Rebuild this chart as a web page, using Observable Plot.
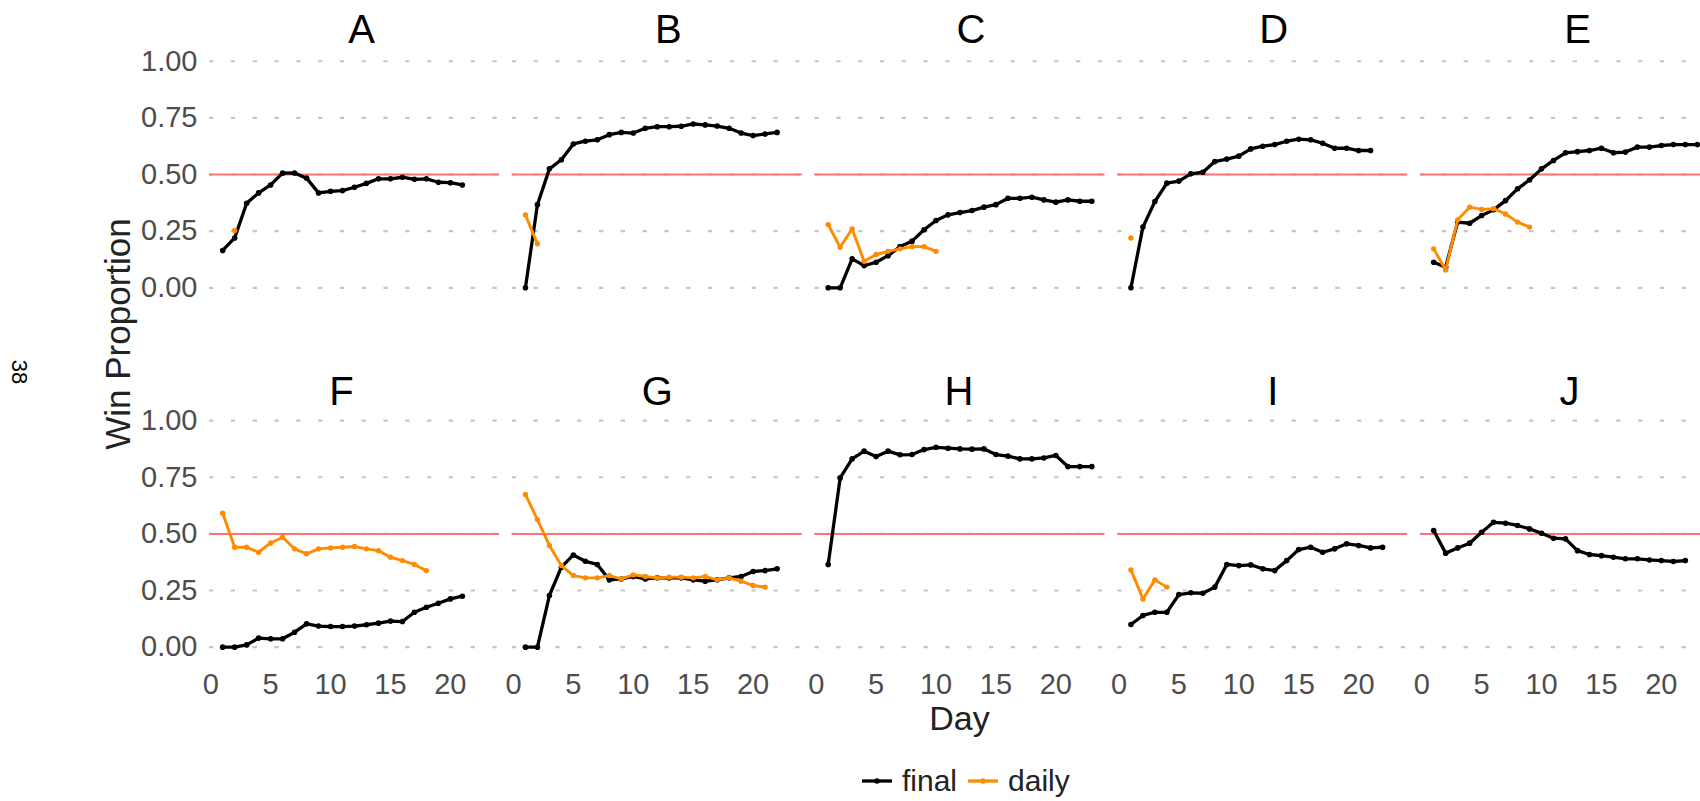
<!DOCTYPE html>
<html>
<head>
<meta charset="utf-8">
<script src="https://cdn.jsdelivr.net/npm/d3@7"></script>
<script src="https://cdn.jsdelivr.net/npm/@observablehq/plot@0.6"></script>
<style>
  html, body { margin: 0; padding: 0; background: #ffffff; overflow: hidden; }
  #wrap { position: relative; width: 1710px; font-family: "Liberation Sans", Arial, sans-serif; }
  #legend { height: 41px; display: flex; align-items: center; padding-left: 862px; box-sizing: border-box;
            font-size: 30px; color: #222; }
  #legend .item { display: flex; align-items: center; margin-right: 11px; }
  #legend svg { margin-right: 10px; }
</style>
</head>
<body>
<div id="wrap"></div>
<script>
// ---- data ----
const panels = ["A","B","C","D","E","F","G","H","I","J"];
const seriesNames = ["final","daily"];
const xTicks = [0,5,10,15,20];
const yTicks = [0,0.25,0.5,0.75,1];

const finalA = [0.165,0.22,0.373,0.419,0.454,0.506,0.507,0.484,0.419,0.426,0.429,0.444,0.461,0.481,0.481,0.488,0.479,0.481,0.466,0.464,0.454];
const dailyA = [null,0.253];
const finalB = [0,0.367,0.525,0.565,0.635,0.647,0.653,0.676,0.686,0.683,0.704,0.711,0.711,0.713,0.723,0.719,0.714,0.704,0.683,0.672,0.679,0.686];
const dailyB = [0.322,0.194];
const finalC = [0,0,0.128,0.098,0.113,0.142,0.182,0.206,0.256,0.297,0.322,0.332,0.341,0.356,0.367,0.395,0.395,0.4,0.388,0.378,0.388,0.382,0.382];
const dailyC = [0.279,0.179,0.26,0.117,0.147,0.161,0.172,0.182,0.182,0.161];
const finalD = [0,0.268,0.381,0.462,0.471,0.503,0.51,0.557,0.568,0.581,0.613,0.625,0.632,0.647,0.656,0.653,0.638,0.616,0.616,0.606,0.606];
const dailyD = [0.22];
const finalE = [0.113,0.091,0.29,0.285,0.319,0.344,0.385,0.437,0.476,0.525,0.562,0.596,0.601,0.606,0.616,0.596,0.599,0.621,0.621,0.628,0.632,0.632,0.632];
const dailyE = [0.172,0.079,0.3,0.356,0.346,0.349,0.326,0.29,0.268];
const finalF = [0,0,0.01,0.04,0.037,0.037,0.066,0.103,0.093,0.091,0.091,0.093,0.099,0.106,0.115,0.113,0.154,0.176,0.194,0.213,0.225];
const dailyF = [0.591,0.441,0.441,0.419,0.46,0.485,0.434,0.412,0.434,0.438,0.441,0.444,0.434,0.426,0.397,0.382,0.365,0.338];
const finalG = [0,0,0.228,0.353,0.407,0.379,0.365,0.297,0.301,0.312,0.301,0.306,0.306,0.306,0.297,0.291,0.297,0.306,0.312,0.334,0.338,0.346];
const dailyG = [0.674,0.563,0.449,0.36,0.316,0.306,0.306,0.316,0.301,0.319,0.312,0.306,0.309,0.309,0.306,0.312,0.297,0.306,0.291,0.272,0.265];
const finalH = [0.365,0.747,0.831,0.865,0.841,0.865,0.849,0.85,0.872,0.882,0.878,0.875,0.874,0.875,0.85,0.843,0.831,0.831,0.835,0.846,0.797,0.797,0.797];
const dailyH = [];
const finalI = [0.1,0.14,0.154,0.154,0.232,0.24,0.238,0.265,0.365,0.36,0.363,0.346,0.338,0.382,0.431,0.441,0.419,0.434,0.456,0.449,0.438,0.441];
const dailyI = [0.341,0.213,0.297,0.265];
const finalJ = [0.515,0.415,0.438,0.459,0.507,0.551,0.547,0.537,0.522,0.503,0.481,0.478,0.426,0.409,0.404,0.397,0.39,0.39,0.385,0.382,0.378,0.382];
const dailyJ = [];

const finals = [finalA,finalB,finalC,finalD,finalE,finalF,finalG,finalH,finalI,finalJ];
const dailies = [dailyA,dailyB,dailyC,dailyD,dailyE,dailyF,dailyG,dailyH,dailyI,dailyJ];

// ---- build table ----
const rows = [];
panels.forEach((p, i) => {
  const col = i % 5, row = Math.floor(i / 5);
  [[finals[i], "final"], [dailies[i], "daily"]].forEach(([arr, s]) => {
    arr.forEach((v, k) => { if (v != null) rows.push({panel: p, col, row, series: s, day: k + 1, value: v}); });
  });
});
const labelRows = panels.map((p, i) => ({panel: p, col: i % 5, row: Math.floor(i / 5)}));
const finalRows = rows.filter(d => d.series === "final");
const dailyRows = rows.filter(d => d.series === "daily");

// strip-label nudges (styling only)
const stripNudge = {A: 7, B: 11, C: 11, D: 11, E: 12, F: -13, G: 0, H: -1, I: 10, J: 4};

const W = 1710, H = 760;
const font = "'Liberation Sans', Arial, sans-serif";

const stripMarks = labelRows.map(d =>
  Plot.text([d], {text: "panel", fx: "col", fy: "row", frameAnchor: "top", lineAnchor: "middle",
                  dy: d.row === 0 ? -20 : -17, dx: stripNudge[d.panel], fontSize: 40, fill: "#000"})
);

const chart = Plot.plot({
  width: W, height: H,
  marginLeft: 209, marginRight: 0, marginTop: 49.4, marginBottom: H - 658,
  style: {fontFamily: font, background: "#ffffff", overflow: "visible"},
  fx: {domain: [0,1,2,3,4], paddingInner: 0.0421, paddingOuter: 0, round: false, axis: null},
  fy: {domain: [0,1], paddingInner: 0.3064, paddingOuter: 0, round: false, axis: null},
  x: {domain: [-0.1, 24.1]},
  y: {domain: [-0.05, 1.05]},
  color: {domain: seriesNames, range: ["#000000", "#FF8C00"]},
  marks: [
    Plot.gridY(yTicks, {stroke: "#c6c6c6", strokeOpacity: 1, strokeWidth: 2.2, strokeDasharray: "4.3,17.5"}),
    Plot.ruleY([0.5], {stroke: "#F8766D", strokeWidth: 2}),
    Plot.line(finalRows, {x: "day", y: "value", z: "panel", stroke: "series", fx: "col", fy: "row", strokeWidth: 3.3}),
    Plot.dot(finalRows, {x: "day", y: "value", fill: "series", r: 2.8, fx: "col", fy: "row"}),
    Plot.line(dailyRows, {x: "day", y: "value", z: "panel", stroke: "series", fx: "col", fy: "row", strokeWidth: 2.9}),
    Plot.dot(dailyRows, {x: "day", y: "value", fill: "series", r: 2.7, fx: "col", fy: "row"}),
    Plot.axisX(xTicks, {tickSize: 0, tickPadding: 15, fontSize: 29, color: "#4d4d4d", label: null}),
    Plot.axisY(yTicks, {tickSize: 0, tickPadding: 12, fontSize: 29, color: "#4d4d4d", label: null, tickFormat: d3.format(".2f")}),
    ...stripMarks
  ]
});

// titles as real text
const svg = d3.select(chart);
svg.append("text")
  .attr("transform", "translate(130,334) rotate(-90)")
  .attr("text-anchor", "middle").attr("font-size", 35).attr("fill", "#222")
  .attr("font-family", font).text("Win Proportion");
svg.append("text")
  .attr("x", 959.5).attr("y", 730)
  .attr("text-anchor", "middle").attr("font-size", 34).attr("fill", "#222")
  .attr("font-family", font).text("Day");
svg.append("text")
  .attr("transform", "translate(11.7,372) rotate(90)")
  .attr("text-anchor", "middle").attr("font-size", 22).attr("fill", "#000")
  .attr("font-family", font).text("38");

const wrap = document.getElementById("wrap");
wrap.appendChild(chart);

// legend
const legend = document.createElement("div");
legend.id = "legend";
const colors = {final: "#000000", daily: "#FF8C00"};
seriesNames.forEach(s => {
  const item = document.createElement("div");
  item.className = "item";
  item.innerHTML = `<svg width="30" height="10"><line x1="0" x2="30" y1="5" y2="5" stroke="${colors[s]}" stroke-width="3.3"/><circle cx="15" cy="5" r="2.8" fill="${colors[s]}"/></svg><span>${s}</span>`;
  legend.appendChild(item);
});
wrap.appendChild(legend);
</script>
</body>
</html>
